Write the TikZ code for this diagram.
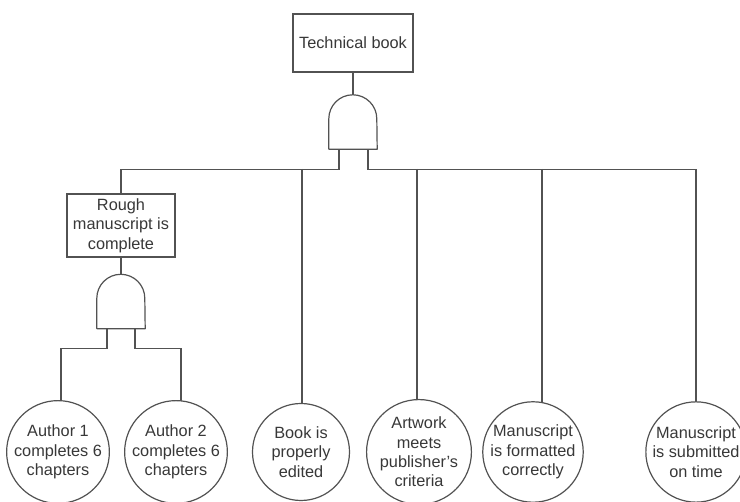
\documentclass[tikz,border=0pt]{standalone}
\usepackage{fontspec}
\setmainfont{Liberation Sans}
\usetikzlibrary{backgrounds}
\definecolor{ink}{gray}{0.32}
\definecolor{txt}{gray}{0.22}
\tikzset{
  wire/.style={draw=ink, line width=1.2pt},
  eventbox/.style={draw=ink, line width=1.2pt, fill=white, text=txt, align=center,
    inner sep=0pt, font=\fontsize{16.3}{19.5}\selectfont},
  basic/.style={circle, draw=ink, line width=1.2pt, fill=white, text=txt, align=center,
    minimum size=97pt, inner sep=0pt, font=\fontsize{16.3}{19.3}\selectfont},
  gatebody/.style={minimum width=48pt, minimum height=54pt, inner sep=0pt},
}
% AND gate outline drawn on the frame of a named node
\newcommand\drawandgate[1]{%
  \draw[wire, fill=white, line join=round] (#1.south west) -- ([yshift=-24pt]#1.north west)
    arc[start angle=180, end angle=0, radius=24pt] -- (#1.south east) -- cycle;}
\begin{document}
\begin{tikzpicture}[x=1pt, y=1pt]
\useasboundingbox (0,0) rectangle (740,-502);

% top event and its gate
\node[eventbox, minimum width=120pt, minimum height=58pt] (tb) at (353,-43) {Technical book};
\node[gatebody] (g1) at (353,-122) {};
\drawandgate{g1}

% intermediate event and its gate
\node[eventbox, minimum width=108pt, minimum height=63pt] (rm) at (121,-225.5)
  {Rough\\manuscript is\\complete};
\node[gatebody] (g2) at (121,-301.5) {};
\drawandgate{g2}

% basic events
\node[basic] (a1) at (58,-452)  {Author 1\\completes 6\\chapters};
\node[basic] (a2) at (176,-452) {Author 2\\completes 6\\chapters};
\node[basic] (be) at (301,-452) {Book is\\properly\\edited};
\node[basic] (aw) at (419,-452) {Artwork\\meets\\publisher's\\criteria};
\node[basic] (mf) at (533,-452) {Manuscript\\is formatted\\correctly};
\node[basic] (ms) at (696,-452) {Manuscript\\is submitted\\on time};

\begin{pgfonlayer}{background}
  % top gate wiring
  \draw[wire] (tb.south) -- (g1.north);
  \draw[wire] ([xshift=-14pt]g1.south) -- ++(0,-20) coordinate (bl) -| (rm.north);
  \draw[wire] ([xshift=15pt]g1.south) -- ++(0,-20) coordinate (br) -| (696,-404) coordinate (t6);
  \coordinate (t3) at (302,-169);
  \coordinate (t4) at (417,-169);
  \coordinate (t5) at (542,-169);
  \draw[wire] (t3) -- (t3 |- be.center);
  \draw[wire] (t4) -- (t4 |- aw.center);
  \draw[wire] (t5) -- (t5 |- mf.center);
  \draw[wire] (t6) -- (ms.center);
  % lower gate wiring
  \draw[wire] (rm.south) -- (g2.north);
  \draw[wire] ([xshift=-14pt]g2.south) -- ++(0,-20) -| (61,-452) coordinate (t1);
  \draw[wire] ([xshift=14pt]g2.south) -- ++(0,-20) -| (181,-452) coordinate (t2);
\end{pgfonlayer}
\end{tikzpicture}
\end{document}
